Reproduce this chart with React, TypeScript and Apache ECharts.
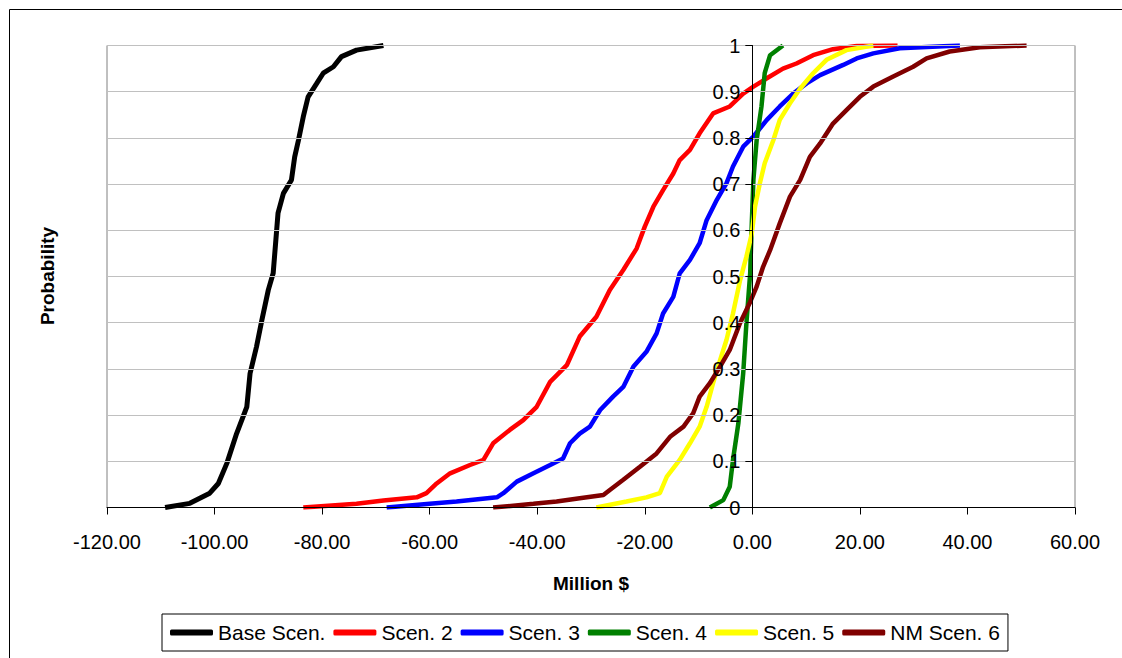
import React, { useEffect, useRef } from "react";
import * as echarts from "echarts";

const seriesNames = ["Base Scen.", "Scen. 2", "Scen. 3", "Scen. 4", "Scen. 5", "NM Scen. 6"];
const seriesColors = ["#000000", "#ff0000", "#0000ff", "#008000", "#ffff00", "#800000"];
const xTicks = [-120, -100, -80, -60, -40, -20, 0, 20, 40, 60];

// [Million $, cumulative probability]
const baseScen: [number, number][] = [
  [-109.2, 0], [-104.6, 0.009], [-100.9, 0.031], [-99.3, 0.052], [-97.7, 0.096],
  [-95.9, 0.16], [-94.0, 0.218], [-93.4, 0.29], [-92.2, 0.348], [-91.2, 0.406],
  [-90.0, 0.471], [-89.1, 0.507], [-88.6, 0.579], [-88.2, 0.637], [-87.2, 0.68],
  [-85.7, 0.709], [-85.1, 0.759], [-84.4, 0.795], [-83.5, 0.846], [-82.6, 0.889],
  [-81.0, 0.918], [-79.8, 0.94], [-77.9, 0.954], [-76.4, 0.976], [-73.6, 0.99],
  [-68.6, 1.0],
];
const scen2: [number, number][] = [
  [-83.5, 0], [-73.6, 0.008], [-68.6, 0.015], [-62.4, 0.022], [-60.6, 0.031],
  [-58.7, 0.052], [-56.2, 0.074], [-52.5, 0.092], [-50.0, 0.103], [-48.2, 0.139],
  [-45.1, 0.168], [-42.6, 0.189], [-40.1, 0.218], [-37.6, 0.272], [-34.5, 0.308],
  [-32.1, 0.37], [-29.0, 0.413], [-26.5, 0.471], [-24.0, 0.514], [-21.5, 0.561],
  [-20.0, 0.608], [-18.4, 0.651], [-16.6, 0.687], [-14.7, 0.723], [-13.5, 0.752],
  [-11.6, 0.774], [-9.8, 0.81], [-7.3, 0.853], [-4.2, 0.868], [-1.7, 0.896],
  [0.2, 0.911], [2.7, 0.929], [5.7, 0.95], [8.2, 0.961], [11.3, 0.979],
  [15.0, 0.992], [19.4, 0.999], [27.0, 1.0],
];
const scen3: [number, number][] = [
  [-68.0, 0], [-60.0, 0.008], [-55.0, 0.013], [-47.5, 0.022], [-46.3, 0.031],
  [-43.8, 0.056], [-40.7, 0.074], [-37.6, 0.092], [-35.2, 0.106], [-33.9, 0.139],
  [-32.1, 0.16], [-30.2, 0.175], [-28.3, 0.211], [-25.9, 0.24], [-24.0, 0.261],
  [-22.1, 0.305], [-19.7, 0.337], [-17.8, 0.377], [-16.6, 0.42], [-14.7, 0.456],
  [-13.5, 0.507], [-11.6, 0.536], [-9.8, 0.572], [-8.5, 0.622], [-6.6, 0.666],
  [-4.8, 0.702], [-3.6, 0.738], [-1.7, 0.781], [0.2, 0.803], [2.7, 0.839],
  [5.1, 0.868], [7.6, 0.896], [10.1, 0.918], [12.6, 0.936], [16.9, 0.958],
  [19.4, 0.972], [22.5, 0.983], [27.4, 0.994], [38.6, 1.0],
];
const scen4: [number, number][] = [
  [-7.9, 0], [-5.4, 0.016], [-4.2, 0.045], [-3.6, 0.103], [-2.6, 0.182],
  [-1.7, 0.29], [-1.1, 0.399], [-0.4, 0.507], [-0.1, 0.615], [0.2, 0.709],
  [0.8, 0.795], [1.7, 0.868], [2.3, 0.94], [3.3, 0.979], [5.7, 1.0],
];
const scen5: [number, number][] = [
  [-29.0, 0], [-23.4, 0.013], [-19.7, 0.022], [-17.2, 0.031], [-15.9, 0.067],
  [-13.5, 0.103], [-11.6, 0.139], [-9.8, 0.175], [-8.5, 0.218], [-7.3, 0.269],
  [-6.0, 0.319], [-4.8, 0.363], [-3.6, 0.42], [-2.3, 0.491], [-1.1, 0.543],
  [-0.1, 0.593], [0.5, 0.651], [1.4, 0.702], [2.3, 0.745], [3.9, 0.795],
  [5.1, 0.839], [7.0, 0.875], [8.9, 0.907], [11.3, 0.94], [13.8, 0.969],
  [17.5, 0.99], [22.5, 1.0],
];
const nmScen6: [number, number][] = [
  [-48.2, 0], [-40.7, 0.008], [-36.4, 0.013], [-32.1, 0.02], [-27.7, 0.027],
  [-26.5, 0.038], [-24.0, 0.06], [-20.9, 0.088], [-17.8, 0.117], [-15.3, 0.153],
  [-12.8, 0.175], [-11.0, 0.204], [-9.8, 0.24], [-7.9, 0.269], [-6.0, 0.305],
  [-4.2, 0.341], [-2.3, 0.399], [-0.4, 0.445], [0.8, 0.478], [2.0, 0.521],
  [3.3, 0.557], [5.1, 0.615], [7.0, 0.673], [8.9, 0.709], [10.7, 0.759],
  [12.6, 0.788], [15.0, 0.831], [17.5, 0.86], [20.0, 0.889], [22.5, 0.911],
  [26.2, 0.933], [29.9, 0.954], [32.4, 0.972], [36.7, 0.987], [42.3, 0.996],
  [51.0, 1.0],
];
const allData = [baseScen, scen2, scen3, scen4, scen5, nmScen6];

const FONT = "Liberation Sans, Arial, sans-serif";
const GRID_LEFT = 107;
const GRID_RIGHT = 47;
const CHART_W = 1122;

export default function App() {
  const ref = useRef<HTMLDivElement>(null);
  useEffect(() => {
    if (!ref.current) return;
    const chart = echarts.init(ref.current, undefined, { renderer: "svg" });
    const xMin = xTicks[0];
    const xMax = xTicks[xTicks.length - 1];
    const plotW = CHART_W - GRID_LEFT - GRID_RIGHT;
    const zeroOffset = ((0 - xMin) / (xMax - xMin)) * plotW;
    chart.setOption({
      animation: false,
      backgroundColor: "#ffffff",
      textStyle: { fontFamily: FONT },
      grid: {
        left: GRID_LEFT,
        top: 45.5,
        right: GRID_RIGHT,
        bottom: 150.5,
        show: true,
        borderColor: "#808080",
        borderWidth: 1,
        backgroundColor: "transparent",
      },
      xAxis: {
        type: "value",
        min: xMin,
        max: xMax,
        interval: 20,
        name: "Million $",
        nameLocation: "middle",
        nameGap: 66,
        nameTextStyle: { fontSize: 19, fontWeight: "bold", color: "#000", fontFamily: FONT },
        axisLine: { onZero: false, lineStyle: { color: "#000", width: 1 } },
        axisTick: { show: true, length: 7, lineStyle: { color: "#000" } },
        axisLabel: {
          fontSize: 20,
          color: "#000",
          margin: 24,
          fontFamily: FONT,
          formatter: (v: number) => v.toFixed(2),
        },
        splitLine: { show: false },
        z: 10,
      },
      yAxis: {
        type: "value",
        min: 0,
        max: 1,
        interval: 0.1,
        position: "left",
        offset: -zeroOffset,
        z: 10,
        axisLine: { show: true, onZero: false, lineStyle: { color: "#000", width: 1 } },
        axisTick: { show: true, length: 7, lineStyle: { color: "#000" } },
        axisLabel: {
          fontSize: 20,
          color: "#000",
          margin: 12,
          fontFamily: FONT,
          formatter: (v: number) => String(Number(v.toFixed(1))),
        },
        splitLine: { show: true, lineStyle: { color: "#c0c0c0", width: 1 } },
      },
      legend: {
        left: 162,
        top: 614,
        orient: "horizontal",
        backgroundColor: "#fff",
        borderColor: "#000",
        borderWidth: 1,
        padding: [8, 8, 8, 8],
        itemGap: 8,
        itemWidth: 43,
        itemHeight: 6,
        icon: "roundRect",
        textStyle: { fontSize: 21, color: "#000", fontFamily: FONT },
        data: seriesNames,
      },
      graphic: [
        {
          type: "rect",
          shape: { x: 9.5, y: 9.5, width: 1300, height: 800 },
          style: { fill: "none", stroke: "#000", lineWidth: 1 },
          silent: true,
        },
        {
          type: "text",
          x: 47,
          y: 276,
          rotation: Math.PI / 2,
          style: {
            text: "Probability",
            fontSize: 19,
            fontWeight: "bold",
            fill: "#000",
            fontFamily: FONT,
            align: "center",
            verticalAlign: "middle",
          },
        },
      ],
      series: allData.map((d, i) => ({
        name: seriesNames[i],
        type: "line",
        data: d,
        symbol: "none",
        showSymbol: false,
        smooth: false,
        color: seriesColors[i],
        lineStyle: { color: seriesColors[i], width: i === 0 ? 5 : 4.5 },
        z: 2 + i,
      })),
    });
    return () => chart.dispose();
  }, []);
  return (
    <div
      ref={ref}
      style={{ position: "fixed", left: 0, top: 0, width: CHART_W, height: 658 }}
    />
  );
}
